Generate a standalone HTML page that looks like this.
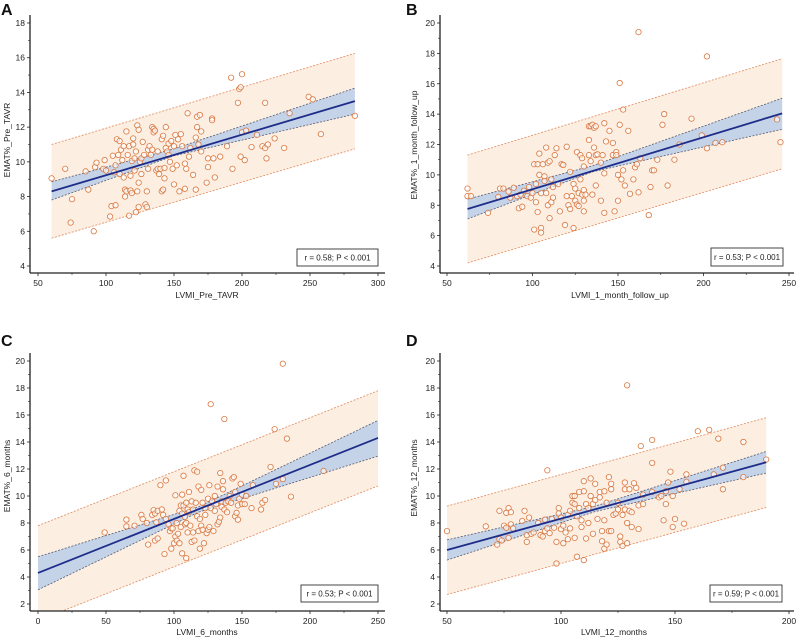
<!DOCTYPE html>
<html><head><meta charset="utf-8">
<style>
html,body{margin:0;padding:0;background:#fff;}
svg{display:block;font-family:"Liberation Sans",Arial,sans-serif;}
</style></head>
<body>
<svg id="chart" width="796" height="638" viewBox="0 0 796 638" xmlns="http://www.w3.org/2000/svg"></svg>
<script>
// ---------- Panel A data ----------
const aX=[60,70,74,75,85,87,91,92,93,98,99,100,103,104,105,106,107,107,108,109,110,110,111,112,113,113,114,114,115,115,116,117,117,118,118,119,119,120,120,121,121,122,122,123,123,124,124,124,125,126,126,127,128,129,130,130,131,131,132,133,134,134,135,135,136,137,138,138,139,140,141,141,142,142,143,143,144,144,145,146,146,147,148,149,150,150,151,152,153,154,155,156,158,158,159,160,161,162,164,166,166,167,167,168,169,170,170,174,175,175,178,178,179,180,184,189,192,193,197,198,199,199,200,200,202,203,207,211,215,217,217,218,219,224,231,235,249,252,258,283];
const aY=[9.05,9.6,6.5,7.85,9.45,8.4,6.0,9.7,9.95,9.6,10.1,9.5,6.85,7.45,10.35,9.4,9.8,7.5,11.3,10.4,11.2,9.3,10.7,10.1,10.9,9.1,8.0,8.4,8.3,11.75,10.4,10.9,6.9,8.35,9.2,10.05,8.2,11.35,11.0,9.5,10.2,7.1,10.6,12.1,8.3,11.85,7.4,8.8,10.0,10.2,9.3,11.15,10.4,7.55,7.4,8.3,9.6,10.7,10.9,10.4,12.0,10.7,11.9,11.7,11.8,9.5,10.6,9.6,9.3,9.6,11.3,8.3,11.5,8.4,9.65,9.05,12.0,10.8,10.6,10.4,11.05,10.0,11.2,9.6,8.7,10.9,11.55,9.8,11.3,8.3,11.6,10.9,8.45,9.9,9.6,12.8,10.3,10.8,9.25,11.4,8.4,12.6,12.0,11.0,12.7,11.75,10.6,8.8,9.7,10.2,12.5,12.4,10.2,9.1,10.3,10.9,14.85,9.6,13.4,14.2,14.3,10.3,15.05,11.7,10.1,11.8,10.85,11.55,10.9,13.4,10.8,10.2,11.0,11.35,10.8,12.8,13.75,13.6,11.6,12.65];
const aFitX=[60,283], aFitY=[8.3,13.5];
const aCiX=[60,150,283], aCiLo=[7.8,10.35,12.75], aCiHi=[8.85,10.75,14.25];
const aPredX=[60,283], aPredLo=[5.6,10.75], aPredHi=[11.0,16.25];
const aXTicks=[50,100,150,200,250,300], aYTicks=[4,6,8,10,12,14,16,18];

// ---------- Panel B data ----------
const bX=[62,62,64,74,80,81,83,86,87,89,91,92,93,94,95,97,98,99,100,101,101,102,102,103,103,104,104,105,105,105,106,107,107,108,108,109,109,110,110,111,111,112,112,113,114,115,116,117,118,119,120,120,121,122,122,123,124,124,125,125,126,126,127,127,128,128,129,129,130,130,130,130,131,133,133,133,134,134,135,135,136,136,137,137,137,138,140,140,141,142,142,142,143,145,147,147,148,149,149,150,150,151,151,152,153,153,154,156,157,159,160,161,162,162,163,168,169,170,171,173,176,177,179,183,186,193,199,202,202,207,211,243,245];
const bY=[8.6,9.1,8.6,7.5,8.55,9.1,9.1,8.9,8.5,9.15,8.6,7.8,8.7,7.9,8.95,8.6,9.2,8.5,8.8,6.4,10.7,8.2,9.4,10.7,7.55,10.0,11.4,6.5,6.2,8.8,10.7,9.9,9.6,8.8,11.8,10.8,8.0,7.15,10.9,8.2,9.7,8.5,9.2,11.3,11.75,9.4,7.6,10.7,10.65,6.7,11.85,8.6,8.0,7.75,10.2,8.6,6.5,9.4,9.1,8.3,8.05,11.5,8.8,7.95,11.3,9.7,8.7,11.1,9.0,8.3,10.55,7.6,8.7,12.3,13.2,11.3,13.2,10.9,13.3,8.7,13.1,11.8,13.2,9.3,11.3,11.35,8.3,10.8,11.3,13.4,7.5,10.1,12.2,12.9,12.1,11.3,7.6,11.5,11.3,8.3,10.0,13.3,16.05,9.7,10.3,14.3,9.3,12.9,8.75,9.7,10.5,10.7,19.4,8.85,11.1,7.35,9.2,10.3,10.3,11.0,13.3,14.0,9.3,11.0,12.0,13.7,12.6,11.75,17.8,12.1,12.15,13.65,12.15];
const bFitX=[62,246], bFitY=[7.75,14.05];
const bCiX=[62,135,246], bCiLo=[7.1,10.2,13.0], bCiHi=[8.4,10.6,15.05];
const bPredX=[62,246], bPredLo=[4.2,10.4], bPredHi=[11.3,17.65];
const bXTicks=[50,100,150,200,250], bYTicks=[4,6,8,10,12,14,16,18,20];

// ---------- Panel C data ----------
const cX=[49,65,65,71,76,77,80,81,84,85,86,86,87,88,88,90,91,92,93,94,94,96,97,98,98,99,100,101,101,102,102,103,104,104,105,105,106,106,106,107,107,108,108,109,109,109,110,110,111,111,112,113,113,114,114,115,115,116,117,117,118,118,119,119,120,120,121,121,122,123,123,124,125,125,126,126,127,127,128,129,130,130,131,132,132,133,134,134,135,135,136,136,137,137,138,139,140,141,142,143,144,145,145,146,147,147,148,149,150,150,152,153,157,158,164,165,167,171,174,175,180,180,183,186,210];
const cY=[7.3,8.25,7.75,7.8,8.6,8.3,8.0,6.4,8.6,8.95,8.7,6.7,8.05,6.85,8.9,10.8,9.0,8.6,5.7,11.15,8.3,7.9,7.4,7.6,6.1,7.6,6.5,10.05,7.0,6.7,8.0,7.2,8.9,6.5,9.3,7.7,10.1,8.7,5.75,11.5,9.3,7.9,8.45,9.5,8.0,5.4,7.3,9.0,10.3,8.8,7.8,6.6,9.6,7.3,9.0,6.7,11.9,9.5,11.8,8.5,7.4,10.7,8.3,6.1,10.45,7.8,7.5,9.5,6.5,9.1,8.6,7.25,9.8,7.5,10.8,7.7,16.8,9.1,9.6,7.4,8.9,10.0,9.4,7.9,10.7,8.1,11.7,8.4,9.6,9.2,10.5,11.1,9.0,15.7,9.5,8.8,9.6,10.0,9.5,11.3,11.4,8.5,10.3,8.75,9.3,8.25,9.8,10.9,10.1,9.4,9.4,10.0,9.1,10.8,9.0,9.5,9.7,12.15,14.95,10.9,19.8,11.25,14.25,9.95,11.85];
const cFitX=[0,250], cFitY=[4.3,14.3];
const cCiX=[0,118,250], cCiLo=[3.05,8.8,12.95], cCiHi=[5.5,9.2,15.6];
const cPredX=[0,250], cPredLo=[0.76,10.75], cPredHi=[7.8,17.8];
const cXTicks=[0,50,100,150,200,250], cYTicks=[2,4,6,8,10,12,14,16,18,20];

// ---------- Panel D data ----------
const dX=[50,67,72,73,73,74,75,76,76,77,77,78,78,79,83,84,85,85,86,87,88,90,91,92,93,93,94,94,95,96,97,98,98,99,99,100,100,101,101,102,103,103,104,104,105,105,106,106,106,107,107,108,108,109,109,110,110,110,111,111,112,112,113,113,114,114,115,115,116,117,117,118,118,119,119,119,120,120,121,121,122,122,122,123,124,125,125,126,126,127,127,128,128,128,129,129,129,130,130,131,131,132,133,134,134,135,136,136,140,140,140,143,144,145,146,146,147,148,149,149,150,152,154,155,155,160,165,167,169,171,171,180,180,190];
const dY=[7.4,7.75,6.4,8.9,6.8,6.7,7.8,7.65,8.75,9.1,6.9,8.8,7.9,7.6,8.15,8.9,7.1,6.6,8.4,7.2,7.3,8.0,7.1,7.0,7.4,8.25,11.9,7.6,7.25,8.3,7.65,6.6,5.0,9.1,8.7,7.55,8.4,6.5,7.8,7.3,6.8,8.6,7.6,8.9,10.0,9.5,6.9,9.4,10.0,8.5,5.5,10.3,9.1,8.2,7.7,11.1,10.35,5.25,6.85,9.4,8.0,9.1,11.3,10.0,9.4,7.2,10.9,9.7,8.3,9.9,10.3,6.65,7.4,6.1,8.2,10.35,9.5,6.4,11.4,7.4,10.9,10.5,7.4,8.6,8.7,9.5,9.0,7.0,6.6,6.3,8.6,11.0,10.5,9.0,6.5,8.0,18.2,10.5,8.9,8.8,7.7,10.95,10.6,9.3,7.55,13.7,10.1,9.4,14.15,12.45,10.3,9.9,10.0,8.2,10.35,9.4,11.0,11.8,7.7,10.0,8.3,10.5,7.95,11.6,11.05,14.8,14.9,11.6,14.25,12.1,10.5,14.0,11.4,12.7];
const dFitX=[50,190], dFitY=[6.0,12.5];
const dCiX=[50,115,190], dCiLo=[5.25,8.85,11.7], dCiHi=[6.75,9.25,13.3];
const dPredX=[50,190], dPredLo=[2.7,9.15], dPredHi=[9.25,15.8];
const dXTicks=[50,100,150,200], dYTicks=[2,4,6,8,10,12,14,16,18,20];

const NS="http://www.w3.org/2000/svg";
const svg=document.getElementById('chart');
function mk(tag,attrs,parent){const e=document.createElementNS(NS,tag);for(const k in attrs)e.setAttribute(k,attrs[k]);(parent||svg).appendChild(e);return e;}

function panel(cfg){
  const g=mk('g',{});
  
  
  const sx=v=>cfg.px0+(v-cfg.xv0)/(cfg.xv1-cfg.xv0)*(cfg.px1-cfg.px0);
  const sy=v=>cfg.py0+(v-cfg.yv0)/(cfg.yv1-cfg.yv0)*(cfg.py1-cfg.py0);
  const clipId='clip'+cfg.id;
  const cp=mk('clipPath',{id:clipId},g);
  mk('rect',{x:cfg.axX,y:cfg.axTop,width:cfg.axRight-cfg.axX,height:cfg.axY-cfg.axTop},cp);
  const pg=mk('g',{'clip-path':'url(#'+clipId+')'},g);
  // prediction band
  const pb=mk('polygon',{points:[sx(cfg.predX[0])+','+sy(cfg.predHi[0]),sx(cfg.predX[1])+','+sy(cfg.predHi[1]),sx(cfg.predX[1])+','+sy(cfg.predLo[1]),sx(cfg.predX[0])+','+sy(cfg.predLo[0])].join(' '),fill:'#fdeee2',stroke:'none'},pg);
  
  
  ['predHi','predLo'].forEach(k=>{
    const l=mk('line',{x1:sx(cfg.predX[0]),y1:sy(cfg[k][0]),x2:sx(cfg.predX[1]),y2:sy(cfg[k][1]),stroke:'#e08a5a','stroke-width':0.8,'stroke-dasharray':'2,1.5'},pg);
    
    
  });
  // CI band
  const hi=cfg.ciX.map((x,i)=>sx(x)+','+sy(cfg.ciHi[i]));
  const lo=cfg.ciX.map((x,i)=>sx(x)+','+sy(cfg.ciLo[i])).reverse();
  const cb=mk('polygon',{points:hi.concat(lo).join(' '),fill:'#c5d3e8',stroke:'none'},pg);
  
  
  ['ciHi','ciLo'].forEach(k=>{
    const l=mk('polyline',{points:cfg.ciX.map((x,i)=>sx(x)+','+sy(cfg[k][i])).join(' '),fill:'none',stroke:'#555c70','stroke-width':0.8,'stroke-dasharray':'2,1.5'},pg);
    
    
  });
  // points
  cfg.xs.forEach((x,i)=>{
    const c=mk('circle',{cx:sx(x),cy:sy(cfg.ys[i]),r:2.7,fill:'#fff','fill-opacity':0.6,stroke:'#d9773f','stroke-width':0.8},pg);
    
    
  });
  // fit line
  const fl=mk('line',{x1:sx(cfg.fitX[0]),y1:sy(cfg.fitY[0]),x2:sx(cfg.fitX[1]),y2:sy(cfg.fitY[1]),stroke:'#1f2d8a','stroke-width':1.8},pg);
  
  
  // axes
  const ya=mk('line',{x1:cfg.axX,y1:cfg.axTop,x2:cfg.axX,y2:cfg.axY,stroke:'#222','stroke-width':1.3},g);
  
  
  const xa=mk('line',{x1:cfg.axX,y1:cfg.axY,x2:cfg.axRight,y2:cfg.axY,stroke:'#222','stroke-width':1.3},g);
  
  
  const ys=cfg.yTicks, yst=(ys[1]-ys[0])/2;
  ys.forEach((v,i)=>{
    mk('line',{x1:cfg.axX-3,y1:sy(v),x2:cfg.axX,y2:sy(v),stroke:'#222','stroke-width':0.8},g);
    if(i<ys.length-1) mk('line',{x1:cfg.axX-2,y1:sy(v+yst),x2:cfg.axX,y2:sy(v+yst),stroke:'#222','stroke-width':0.6},g);
    const t=mk('text',{x:cfg.axX-5,y:sy(v)+3,'text-anchor':'end','font-size':8.5,fill:'#222'},g);
    t.textContent=v;
    
    
  });
  const xs=cfg.xTicks, xst=(xs[1]-xs[0])/2;
  xs.forEach((v,i)=>{
    mk('line',{x1:sx(v),y1:cfg.axY,x2:sx(v),y2:cfg.axY+3,stroke:'#222','stroke-width':0.8},g);
    if(i<xs.length-1) mk('line',{x1:sx(v+xst),y1:cfg.axY,x2:sx(v+xst),y2:cfg.axY+2,stroke:'#222','stroke-width':0.6},g);
    const t=mk('text',{x:sx(v),y:cfg.axY+13,'text-anchor':'middle','font-size':8.5,fill:'#222'},g);
    t.textContent=v;
    
    
  });
  const xt=mk('text',{x:cfg.xtX,y:cfg.xtY,'text-anchor':'middle','font-size':8.5,fill:'#222'},g);
  xt.textContent=cfg.xTitle;
  
  
  const yt=mk('text',{x:0,y:0,'text-anchor':'middle','font-size':8.5,fill:'#222',transform:'translate('+cfg.ytX+','+cfg.ytY+') rotate(-90)'},g);
  yt.textContent=cfg.yTitle;
  
  
  const bx=mk('rect',{x:cfg.box[0],y:cfg.box[1],width:cfg.box[2],height:cfg.box[3],fill:'#fff',stroke:'#333','stroke-width':0.9},g);
  
  
  const bt=mk('text',{x:cfg.box[0]+cfg.box[2]/2,y:cfg.box[1]+cfg.box[3]/2+3,'text-anchor':'middle','font-size':8,fill:'#222'},g);
  bt.textContent=cfg.stat;
  
  
  const lt=mk('text',{x:cfg.letter[0],y:cfg.letter[1],'font-size':16,'font-weight':'bold',fill:'#111'},g);
  lt.textContent=cfg.id;
  
  
}

panel({id:'A',xs:aX,ys:aY,fitX:aFitX,fitY:aFitY,ciX:aCiX,ciLo:aCiLo,ciHi:aCiHi,predX:aPredX,predLo:aPredLo,predHi:aPredHi,xTicks:aXTicks,yTicks:aYTicks,
  xv0:50,xv1:300,px0:38,px1:378,yv0:4,yv1:18,py0:266,py1:23,axX:30,axY:273,axTop:15,axRight:385,
  xTitle:'LVMI_Pre_TAVR',xtX:207,xtY:298,yTitle:'EMAT%_Pre_TAVR',ytX:10,ytY:140,box:[297,249,81,17],stat:'r = 0.58; P < 0.001',letter:[1,15]});
panel({id:'B',xs:bX,ys:bY,fitX:bFitX,fitY:bFitY,ciX:bCiX,ciLo:bCiLo,ciHi:bCiHi,predX:bPredX,predLo:bPredLo,predHi:bPredHi,xTicks:bXTicks,yTicks:bYTicks,
  xv0:50,xv1:250,px0:447,px1:789,yv0:4,yv1:20,py0:266,py1:23,axX:440,axY:273,axTop:15,axRight:794,
  xTitle:'LVMI_1_month_follow_up',xtX:620,xtY:298,yTitle:'EMAT%_1_month_follow_up',ytX:417,ytY:145,box:[711,248,72,18],stat:'r = 0.53; P < 0.001',letter:[406,15]});
panel({id:'C',xs:cX,ys:cY,fitX:cFitX,fitY:cFitY,ciX:cCiX,ciLo:cCiLo,ciHi:cCiHi,predX:cPredX,predLo:cPredLo,predHi:cPredHi,xTicks:cXTicks,yTicks:cYTicks,
  xv0:0,xv1:250,px0:38,px1:378,yv0:2,yv1:20,py0:604,py1:361,axX:30,axY:611,axTop:353,axRight:385,
  xTitle:'LVMI_6_months',xtX:207,xtY:635,yTitle:'EMAT%_6_months',ytX:10,ytY:476,box:[301,585,77,17],stat:'r = 0.53; P < 0.001',letter:[1,346]});
panel({id:'D',xs:dX,ys:dY,fitX:dFitX,fitY:dFitY,ciX:dCiX,ciLo:dCiLo,ciHi:dCiHi,predX:dPredX,predLo:dPredLo,predHi:dPredHi,xTicks:dXTicks,yTicks:dYTicks,
  xv0:50,xv1:200,px0:447,px1:789,yv0:2,yv1:20,py0:604,py1:361,axX:440,axY:611,axTop:353,axRight:794,
  xTitle:'LVMI_12_months',xtX:614,xtY:635,yTitle:'EMAT%_12_months',ytX:417,ytY:478,box:[710,585,72,17],stat:'r = 0.59; P < 0.001',letter:[406,346]});
</script>
</body></html>
